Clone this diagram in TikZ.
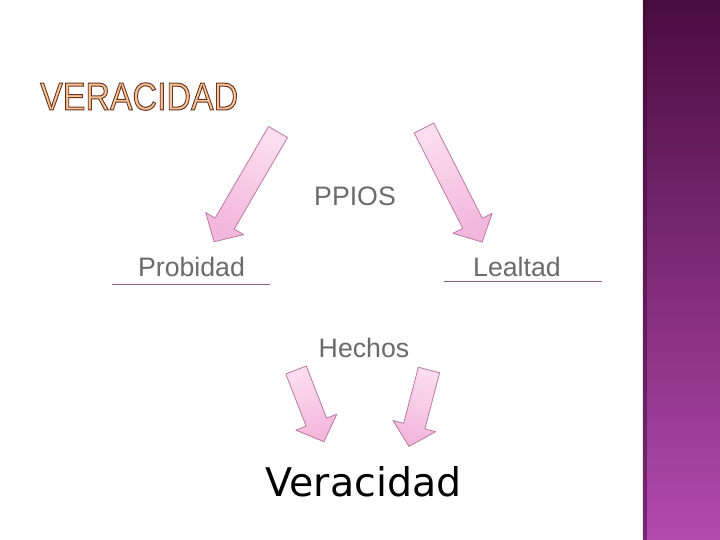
\documentclass[tikz,border=0pt]{standalone}
\usepackage{fontspec}
\usepackage{graphicx}
\setmainfont{Liberation Sans}
\newfontfamily\bigfont{DejaVu Sans}

\definecolor{arrowtail}{HTML}{FBDDEF}
\definecolor{arrowmid}{HTML}{EDA2D2}
\definecolor{arrowhead}{HTML}{F3B6DC}
\definecolor{arrowline}{HTML}{B97AA2}
\definecolor{stripTop}{HTML}{4A0C40}
\definecolor{stripMid}{HTML}{74286C}
\definecolor{stripBot}{HTML}{B24AAE}
\definecolor{ruleline}{HTML}{8E5E84}
\definecolor{titlefill}{HTML}{F7C597}

% outlined letters: fill and stroke render mode
\newcommand{\outlined}[1]{{\color{titlefill}\special{pdf:literal direct 2 Tr 1 w 0.416 0.204 0.125 RG}#1\special{pdf:literal direct 0 Tr}}}

\tikzset{
  word/.style={text=black!58, font=\fontsize{26.7}{32}\selectfont, inner sep=0pt, anchor=base},
  rule/.style={ruleline, line width=0.9pt},
  arrowbody/.style={draw=arrowline, line width=0.8pt, line join=round},
  titleword/.style={font=\fontsize{39}{44}\selectfont, inner sep=0pt, anchor=base west},
}

\newcommand{\pinkarrow}[4]{%
  \pgfmathsetmacro\shadeang{#3+90}
  \begin{scope}[shift={(#1,#2)}, rotate=#3]
    \draw[arrowbody, top color=arrowtail, middle color=arrowmid, bottom color=arrowhead, shading angle=\shadeang]
      (0,-11) -- ({#4-21},-11) -- ({#4-21},-22) -- (#4,0) -- ({#4-21},22) -- ({#4-21},11) -- (0,11) -- cycle;
  \end{scope}}

\begin{document}
\begin{tikzpicture}[x=1pt, y=1pt]
  \useasboundingbox (0,0) rectangle (720,540);
  \fill[white] (0,0) rectangle (720,540);

  \shade[top color=stripTop, middle color=stripMid, bottom color=stripBot] (643,0) rectangle (720,540);
  \fill[stripTop!80!black, opacity=0.5] (643,0) rectangle (647,540);
  \draw[white!85!stripBot, line width=0.6pt] (642.5,0) -- (642.5,540);

  \node[titleword] (title) at (40,430) {\scalebox{0.87}[1]{\outlined{VERACIDAD}}};

  \pinkarrow{278}{408}{239.8}{127}
  \pinkarrow{424}{412}{297}{128}
  \pinkarrow{296}{170}{291.3}{77}
  \pinkarrow{429}{170}{255.3}{79}

  \node[word] (ppios) at (355,334) {PPIOS};
  \node[word] (probidad) at (191.5,263) {Probidad};
  \node[word] (lealtad) at (517,263) {Lealtad};
  \node[word] (hechos) at (364,182) {Hechos};
  \node[word, text=black, font=\bigfont\fontsize{39.5}{44}\selectfont] (veracidad) at (363.5,43) {Veracidad};

  \draw[rule] ([xshift=-26pt, yshift=-7pt]probidad.base west) -- ([xshift=25pt, yshift=-7pt]probidad.base east);
  \draw[rule] ([xshift=-29pt, yshift=-4pt]lealtad.base west) -- ([xshift=41pt, yshift=-4pt]lealtad.base east);
\end{tikzpicture}
\end{document}
